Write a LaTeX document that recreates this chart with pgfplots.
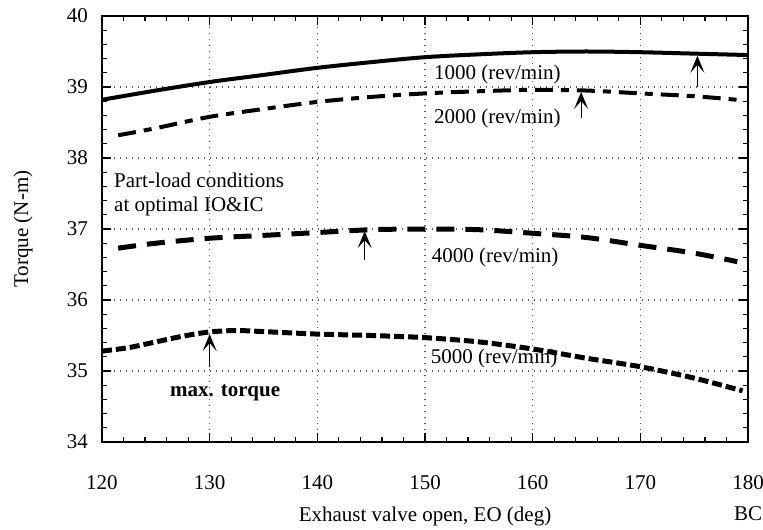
\documentclass[border=0pt]{standalone}
\usepackage{fontspec}
\setmainfont{Liberation Serif}
\usepackage{pgfplots}
\pgfplotsset{compat=1.18}
\usetikzlibrary{arrows.meta}
\newcommand{\fs}{\fontsize{10.5}{12.6}\selectfont}
\begin{document}
\begin{tikzpicture}
\begin{axis}[
  scale only axis,
  width=323pt, height=213pt,
  xmin=120, xmax=180, ymin=34, ymax=40,
  xtick={120,130,...,180}, ytick={34,35,...,40},
  minor x tick num=4, minor y tick num=4,
  tick align=inside,
  major tick length=4.5pt, minor tick length=2.5pt,
  every tick/.style={black, line width=0.6pt},
  axis line style={line width=1pt},
  grid=major,
  major grid style={black!65, line width=0.7pt, dash pattern=on 0.7pt off 2.3pt},
  /pgf/number format/assume math mode=true,
  ticklabel style={font=\fs},
  xticklabel style={yshift=-13pt},
  yticklabel style={xshift=-3.5pt},
  label style={font=\fs},
  xlabel={Exhaust valve open, EO (deg)},
  xlabel style={at={(axis description cs:0.5,0)}, anchor=north, yshift=-29pt},
  ylabel={Torque (N-m)},
  ylabel style={at={(axis description cs:-0.122,0.5)}, anchor=center, rotate=0},
  clip=false,
]
\addplot[black, line width=2pt, smooth] coordinates {
(120,38.82)(125,38.95)(130,39.07)(135,39.17)(140,39.27)(145,39.35)(150,39.42)(155,39.46)(160,39.49)(165,39.5)(170,39.49)(175,39.47)(180,39.45)};
\addplot[black, line width=2pt, smooth, dash pattern=on 9pt off 4pt on 4pt off 4pt] coordinates {
(121.5,38.32)(125,38.42)(130,38.58)(135,38.69)(140,38.79)(145,38.86)(150,38.91)(155,38.94)(160,38.96)(165,38.95)(170,38.91)(175,38.87)(179,38.82)};
\addplot[black, line width=2.5pt, smooth, dash pattern=on 9pt off 5.5pt] coordinates {
(121.5,36.73)(125,36.8)(130,36.87)(135,36.91)(140,36.95)(145,36.99)(150,37.0)(155,36.99)(160,36.94)(165,36.88)(170,36.77)(175,36.66)(179,36.54)};
\addplot[black, line width=2.5pt, smooth, dash pattern=on 5pt off 2pt] coordinates {
(120,35.28)(122.5,35.33)(125,35.41)(127.5,35.49)(130,35.55)(132.5,35.57)(135,35.555)(140,35.52)(145,35.5)(150,35.47)(155,35.41)(160,35.31)(165,35.18)(170,35.06)(175,34.9)(179.5,34.72)};
\tikzset{arr/.style={line width=0.6pt, -{Stealth[length=8.5pt,width=7pt,inset=4pt]}}}
\draw[arr] (axis cs:175.3,39.0) -- (axis cs:175.3,39.44);
\draw[arr] (axis cs:164.5,38.56) -- (axis cs:164.5,38.93);
\draw[arr] (axis cs:144.4,36.56) -- (axis cs:144.4,36.97);
\draw[arr] (axis cs:130,35.06) -- (axis cs:130,35.52);
\node[anchor=west, inner sep=0pt, font=\fs] at (axis cs:150.8,39.17) {1000 (rev/min)};
\node[anchor=west, inner sep=0pt, font=\fs] at (axis cs:150.8,38.56) {2000 (rev/min)};
\node[anchor=west, inner sep=0pt, font=\fs] at (axis cs:150.6,36.6) {4000 (rev/min)};
\node[anchor=west, inner sep=0pt, font=\fs] at (axis cs:150.5,35.18) {5000 (rev/min)};
\node[anchor=west, inner sep=0pt, font=\fs] at (axis cs:121.1,37.69) {Part-load conditions};
\node[anchor=west, inner sep=0pt, font=\fs] at (axis cs:121.1,37.32) {at optimal IO\&IC};
\node[anchor=west, inner sep=0pt, font=\fs\bfseries] at (axis cs:126.3,34.69) {max. torque};
\node[anchor=north, font=\fs] at ([yshift=-29pt]axis cs:180,34) {BC};
\end{axis}
\pgfresetboundingbox
\path[use as bounding box] ([shift={(-51pt,-43.5pt)}]current axis.south west) rectangle ([shift={(7.5pt,8pt)}]current axis.north east);
\end{tikzpicture}
\end{document}
